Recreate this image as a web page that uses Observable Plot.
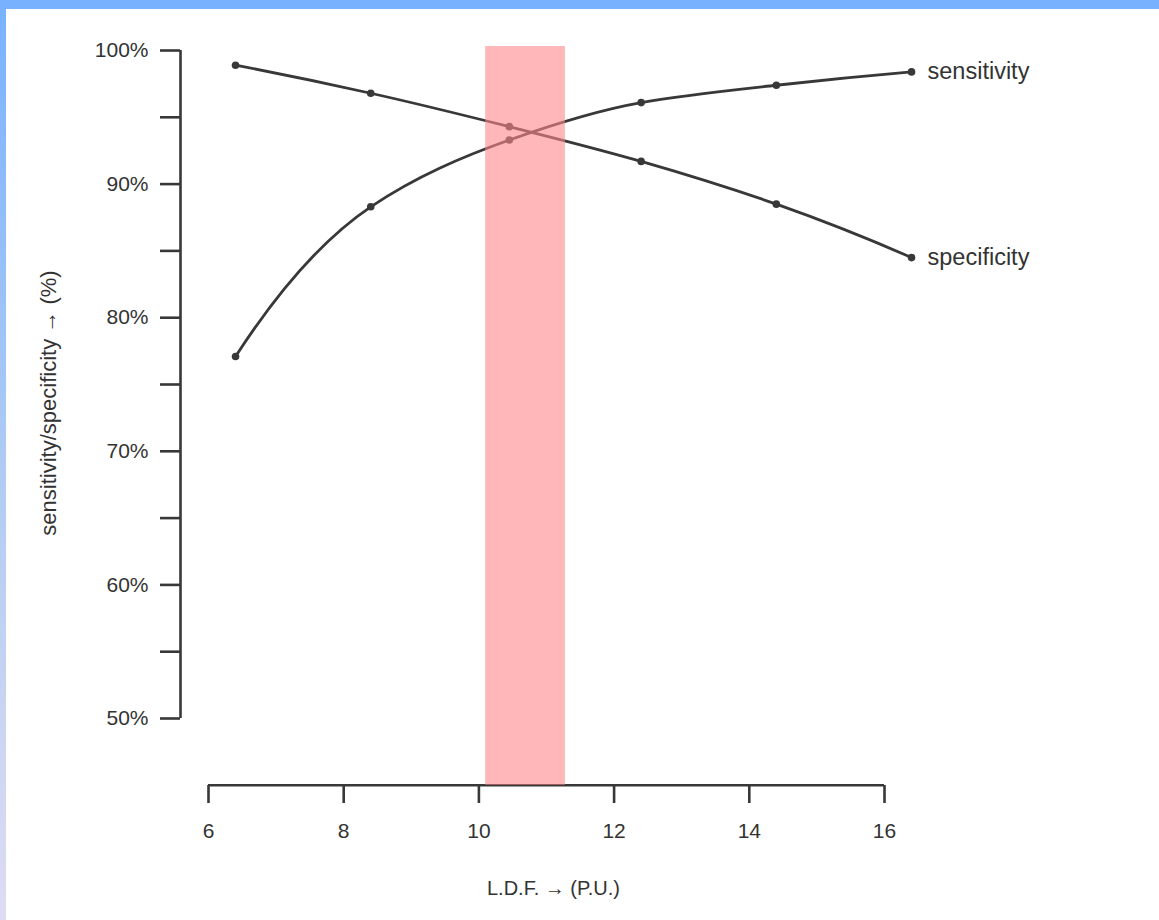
<!DOCTYPE html>
<html>
<head>
<meta charset="utf-8">
<script src="https://cdn.jsdelivr.net/npm/d3@7"></script>
<script src="https://cdn.jsdelivr.net/npm/@observablehq/plot@0.6"></script>
<style>
  html, body { margin: 0; padding: 0; background: #fff; }
  body { width: 1159px; height: 920px; position: relative; overflow: hidden; font-family: "Liberation Sans", Arial, sans-serif; }
  #top { position: absolute; left: 0; top: 0; width: 1159px; height: 9px; background: #78b2fe; }
  #left { position: absolute; left: 0; top: 0; width: 6px; height: 920px; background: linear-gradient(#78b2fe, #b4cdf3 55%, #dedcf2); }
  #chart { position: absolute; left: 0; top: 0; }
</style>
</head>
<body>
<div id="chart"></div>
<div id="top"></div>
<div id="left"></div>
<script>
// LDF (P.U.) values of the measured points
const ldf = [6.4, 8.4, 10.45, 12.4, 14.4, 16.4];
// sensitivity and specificity (%)
const sensitivity = [77.1, 88.3, 93.3, 96.1, 97.4, 98.4];
const specificity = [98.9, 96.8, 94.3, 91.7, 88.5, 84.5];
const seriesNames = ["sensitivity", "specificity"];
// highlighted optimal cut-off band
const bandX = [10.1, 11.28];
const bandY = [45, 100.3];
// axes
const yTicks = [50, 55, 60, 65, 70, 75, 80, 85, 90, 95, 100];
const xTicks = [6, 8, 10, 12, 14, 16];
const xTitle = "L.D.F. \u2192 (P.U.)";
const yTitle = "sensitivity/specificity \u2192 (%)";

const rows = [];
ldf.forEach((x, i) => rows.push({series: seriesNames[0], x, y: sensitivity[i]}));
ldf.forEach((x, i) => rows.push({series: seriesNames[1], x, y: specificity[i]}));
const ends = seriesNames.map(s => rows.filter(r => r.series === s).at(-1));

// smooth Hermite curve (harmonic-mean tangents, parabolic end conditions)
function smoothCurve(context) {
  let xs = [], ys = [];
  return {
    areaStart() {}, areaEnd() {},
    lineStart() { xs = []; ys = []; },
    point(x, y) { xs.push(+x); ys.push(+y); },
    lineEnd() {
      const n = xs.length;
      if (!n) return;
      context.moveTo(xs[0], ys[0]);
      if (n === 1) return;
      const s = [];
      for (let i = 0; i < n - 1; i++) s.push((ys[i + 1] - ys[i]) / (xs[i + 1] - xs[i]));
      const t = new Array(n);
      for (let i = 1; i < n - 1; i++) t[i] = s[i - 1] * s[i] > 0 ? 2 * s[i - 1] * s[i] / (s[i - 1] + s[i]) : 0;
      if (n === 2) { t[0] = t[1] = s[0]; }
      else { t[0] = 2 * s[0] - t[1]; t[n - 1] = 2 * s[n - 2] - t[n - 2]; }
      for (let i = 0; i < n - 1; i++) {
        const h = xs[i + 1] - xs[i];
        context.bezierCurveTo(xs[i] + h / 3, ys[i] + t[i] * h / 3, xs[i + 1] - h / 3, ys[i + 1] - t[i + 1] * h / 3, xs[i + 1], ys[i + 1]);
      }
    }
  };
}

const ink = "#383838";
const yAxisOffset = -28; // y axis drawn left of the x axis start
const yAxisX = 6 + yAxisOffset * (16 - 6) / (884 - 208);

const plot = Plot.plot({
  width: 1159,
  height: 920,
  marginLeft: 208,
  marginRight: 275,
  marginTop: 50,
  marginBottom: 135,
  style: {background: "transparent", fontFamily: "'Liberation Sans', Arial, sans-serif", fontSize: "21px", color: "#333"},
  x: {domain: [6, 16]},
  y: {domain: [50, 100], range: [718, 50]},
  marks: [
    // y axis
    Plot.ruleX([yAxisX], {y1: 50, y2: 100, stroke: ink, strokeWidth: 2.6}),
    Plot.axisY(yTicks, {anchor: "left", dx: yAxisOffset, tickSize: 20, tickPadding: 12, strokeWidth: 2.6, stroke: ink,
      tickFormat: d => d % 10 === 0 ? d + "%" : "", fontSize: 21, fill: "#333", label: null}),
    // x axis
    Plot.ruleY([bandY[0]], {x1: 6, x2: 16, stroke: ink, strokeWidth: 2.6}),
    Plot.axisX(xTicks, {anchor: "bottom", tickSize: 18, tickPadding: 20, strokeWidth: 2.6, stroke: ink,
      fontSize: 21, fill: "#333", label: null}),
    // lines and points
    Plot.line(rows, {x: "x", y: "y", z: "series", curve: smoothCurve, stroke: ink, strokeWidth: 2.8}),
    Plot.dot(rows, {x: "x", y: "y", r: 3.8, fill: ink, stroke: null}),
    Plot.text(ends, {x: "x", y: "y", text: "series", dx: 16, textAnchor: "start", fontSize: 23.5, fill: "#333"}),
    // highlighted band
    Plot.rect([{x1: bandX[0], x2: bandX[1], y1: bandY[0], y2: bandY[1]}], {x1: "x1", x2: "x2", y1: "y1", y2: "y2", fill: "#ff878c", fillOpacity: 0.6}),
    // titles
    Plot.text([xTitle], {frameAnchor: "bottom", dx: 7, dy: 103, fontSize: 20, fill: "#333", lineAnchor: "middle"}),
    Plot.text([yTitle], {frameAnchor: "left", textAnchor: "middle", dx: -160, dy: -15, rotate: -90, fontSize: 22, fill: "#333", lineAnchor: "middle"})
  ]
});
document.getElementById("chart").appendChild(plot);
</script>
</body>
</html>
